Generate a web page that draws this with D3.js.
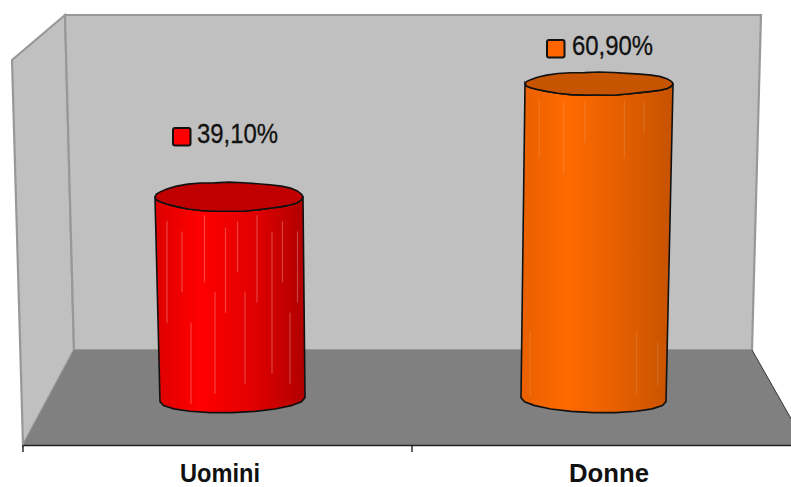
<!DOCTYPE html>
<html>
<head>
<meta charset="utf-8">
<style>
html,body{margin:0;padding:0;background:#fff;}
svg{display:block;}
text{font-family:"Liberation Sans",Arial,sans-serif;fill:#111;}
</style>
<script src="https://cdn.jsdelivr.net/npm/d3@7"></script>
</head>
<body>
<svg id="chart" width="791" height="487"></svg>
<script>
// Survey share by gender
const categories = ["Uomini", "Donne"];
const values = [39.1, 60.9];
const valueLabels = ["39,10%", "60,90%"];

// Colour ramps for the cylinder sides, left to right
const bodyRamps = [
  ["#dd0000", "#ff0000", "#e20000", "#b00000"],
  ["#e86000", "#ff6a00", "#e55f00", "#c65200"]
];
const capColors = ["#c00000", "#c65400"];
const swatchColors = ["#ff0000", "#ff6600"];

const svg = d3.select("#chart");

// Room geometry: back wall, side wall, floor
const room = {
  backTL: [65, 15], backTR: [761, 15], backBR: [752, 350], backBL: [74, 350],
  sideTL: [12, 60], sideBL: [23, 445], floorR: [806, 445]
};
const poly = pts => "M" + pts.map(p => p.join(",")).join("L") + "Z";

svg.append("path")
  .attr("d", poly([room.sideTL, room.backTL, room.backBL, room.sideBL]))
  .attr("fill", "#c0c0c0").attr("stroke", "#989898").attr("stroke-width", 2.2);
svg.append("path")
  .attr("d", poly([room.backTL, room.backTR, room.backBR, room.backBL]))
  .attr("fill", "#c0c0c0").attr("stroke", "#989898").attr("stroke-width", 2.2);
svg.append("path")
  .attr("d", poly([room.backBL, room.backBR, room.floorR, room.sideBL]))
  .attr("fill", "#808080");
svg.append("line")
  .attr("x1", room.backBR[0]).attr("y1", room.backBR[1])
  .attr("x2", room.floorR[0]).attr("y2", room.floorR[1])
  .attr("stroke", "#333").attr("stroke-width", 1);

// Front axis with the category labels between its ticks
const xFront = d3.scaleBand().domain(categories).range([23, 801]);
const axis = d3.axisBottom(xFront).tickSize(0).tickPadding(0).tickFormat(() => "");
svg.append("g").attr("transform", "translate(0,445)").call(axis)
  .call(g => g.select(".domain").attr("stroke", "#222").attr("stroke-width", 1.4));
svg.selectAll(".cut").data([23, 412]).enter().append("line")
  .attr("x1", d => d).attr("x2", d => d).attr("y1", 445).attr("y2", 452)
  .attr("stroke", "#222").attr("stroke-width", 1.4);
svg.selectAll(".cat").data(categories).enter().append("text")
  .attr("x", d => xFront(d) + xFront.bandwidth() / 2 + (d === "Uomini" ? 2.5 : 2.5))
  .attr("y", 481.5).attr("text-anchor", "middle")
  .attr("font-size", 25).attr("font-weight", "bold")
  .attr("textLength", 80).attr("lengthAdjust", "spacingAndGlyphs")
  .text(d => d);

// Cylinders stand on a plane set back from the front axis
const x = d3.scaleBand().domain(categories).range([52, 774]);
const y = d3.scaleLinear().domain([0, 70]).range([399.6, 399.6 - 70 * 5.19]);
const baseRx = 72.5, baseRy = 13, rxTop = 74, vanishX = 412, spread = 0.0005;
const topRy = v => 19.9 - 0.138 * v;
const project = (cx, v) => vanishX + (cx - vanishX) * (1 + spread * v);

// Gentle unevenness along the rim of each top face
const rimBumps = [0, 0.3, 0.5, 0.2, -0.3, -0.5, -0.2, 0.4];

const ring = (cx, cy, rx, ry, a0, a1, n, tilt = 0) => d3.range(n + 1).map(i => {
  const a = a0 + (a1 - a0) * i / n;
  return [cx + rx * Math.cos(a), cy + ry * Math.sin(a) + tilt * Math.cos(a)];
});
const lineGen = d3.line();

const defs = svg.append("defs");
categories.forEach((c, i) => {
  const g = defs.append("linearGradient").attr("id", "body" + i)
    .attr("x1", "0").attr("x2", "1").attr("y1", "0").attr("y2", "0");
  [0, 0.3, 0.65, 1].forEach((o, j) => {
    g.append("stop").attr("offset", o).attr("stop-color", bodyRamps[i][j]);
  });
});

// Fine vertical highlights on the sides: [fraction across, start, end]
const streaks = [
  [[0.08,0.05,0.55],[0.18,0.1,0.4],[0.24,0.55,0.95],[0.33,0.02,0.35],[0.4,0.4,0.9],[0.47,0.08,0.5],[0.55,0.05,0.3],[0.6,0.4,0.85],[0.68,0.02,0.45],[0.78,0.1,0.8],[0.85,0.05,0.35],[0.9,0.5,0.85],[0.95,0.1,0.45]],
  [[0.06,0.75,0.95],[0.12,0.02,0.2],[0.28,0.02,0.25],[0.42,0.02,0.15],[0.68,0.02,0.2],[0.76,0.75,0.95],[0.81,0.02,0.12],[0.9,0.78,0.92]]
];
const streakOpacity = [0.26, 0.12];

categories.forEach((c, i) => {
  const v = values[i];
  const cxBase = x(c) + x.bandwidth() / 2;
  const cxTop = project(cxBase, v);
  const yTop = y(v), yBase = y(0);
  const ry = topRy(v);
  const tilt = 2 * (cxBase - vanishX) / 181;

  const cap = ring(cxTop, yTop, rxTop, ry, 0, 2 * Math.PI, 32)
    .map((p, k) => [p[0], p[1] + rimBumps[k % rimBumps.length]]);
  cap[16] = [cxTop - rxTop, yTop];
  cap[0] = [cxTop + rxTop, yTop];
  cap[32] = cap[0];

  const bottom = ring(cxBase, yBase, baseRx, baseRy, 0, Math.PI, 10, tilt);
  const outline = bottom.concat(cap.slice(0, 17).reverse());

  defs.append("clipPath").attr("id", "clip" + i)
    .append("path").attr("d", lineGen(outline) + "Z");

  svg.append("path").attr("d", lineGen(outline) + "Z")
    .attr("fill", `url(#body${i})`);

  const left = Math.min(cxBase - baseRx, cxTop - rxTop);
  const span = Math.max(cxBase + baseRx, cxTop + rxTop) - left;
  const hgt = yBase - yTop;
  svg.append("g").attr("clip-path", `url(#clip${i})`)
    .selectAll("line").data(streaks[i]).enter().append("line")
    .attr("x1", d => left + d[0] * span).attr("x2", d => left + d[0] * span)
    .attr("y1", d => yTop + d[1] * hgt + ry).attr("y2", d => yTop + d[2] * hgt + ry)
    .attr("stroke", "#fff").attr("stroke-opacity", streakOpacity[i]).attr("stroke-width", 1.2);

  svg.append("path").attr("d", lineGen(outline) + "Z")
    .attr("fill", "none").attr("stroke", "#111").attr("stroke-width", 1.6);

  svg.append("path").attr("d", lineGen(cap) + "Z")
    .attr("fill", capColors[i]).attr("stroke", "#111").attr("stroke-width", 1.6);
});

// Value labels, each with a colour key
const labelAt = [[172, 127, 197, 143], [546, 39, 572, 55]];
categories.forEach((c, i) => {
  const [sx, sy, tx, ty] = labelAt[i];
  svg.append("rect").attr("x", sx + 1).attr("y", sy + 1).attr("width", 17.5).attr("height", 17.5)
    .attr("rx", 2).attr("fill", swatchColors[i]).attr("stroke", "#111").attr("stroke-width", 2);
  svg.append("text").attr("x", tx).attr("y", ty)
    .attr("font-size", 27)
    .attr("textLength", 81).attr("lengthAdjust", "spacingAndGlyphs")
    .style("stroke", "#111").style("stroke-width", 0.3)
    .text(valueLabels[i]);
});
</script>
</body>
</html>
